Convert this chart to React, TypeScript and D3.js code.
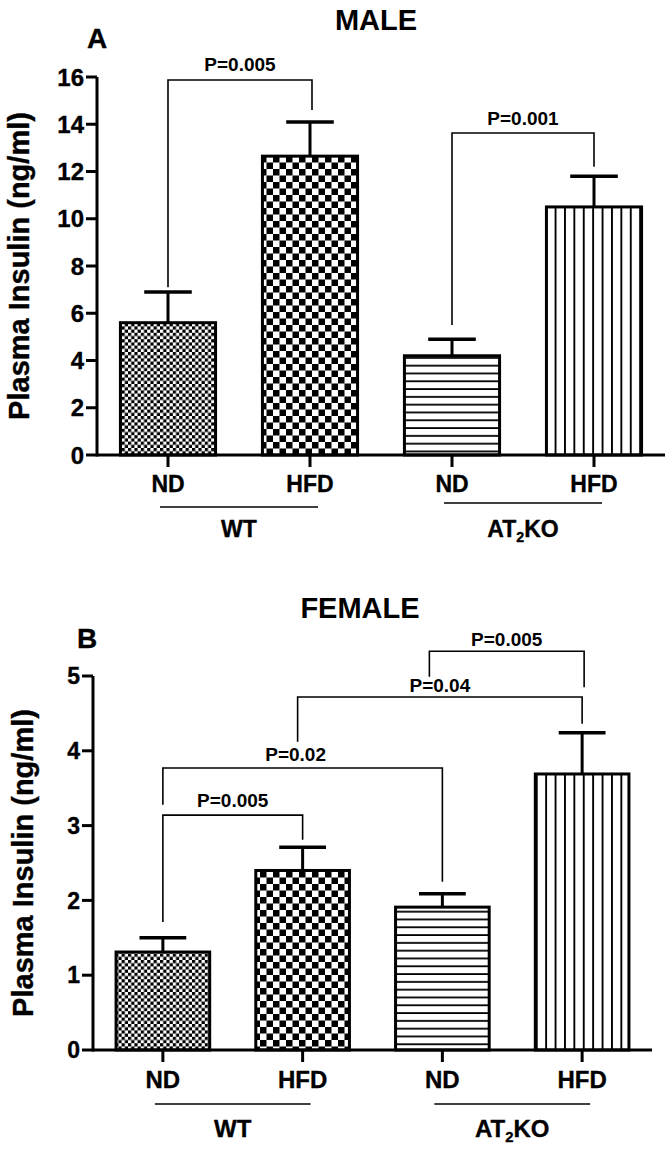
import React from "react";
import * as d3 from "d3";

// ---------- data ----------
const categories = ["ND", "HFD", "ND", "HFD"];
const groupNames = ["WT", "AT2KO"];
const groupMembers = [[0, 1], [2, 3]];

const maleMeans = [5.6, 12.65, 4.2, 10.5];
const maleSem = [1.3, 1.45, 0.7, 1.3];
const maleTicks = [0, 2, 4, 6, 8, 10, 12, 14, 16];

const femaleMeans = [1.31, 2.4, 1.91, 3.69];
const femaleSem = [0.19, 0.31, 0.18, 0.55];
const femaleTicks = [0, 1, 2, 3, 4, 5];

const maleBrackets = [
  { label: "P=0.005", from: 0, to: 1, level: 15.87, leftEnd: 7.1, rightEnd: 14.6 },
  { label: "P=0.001", from: 2, to: 3, level: 13.63, leftEnd: 5.5, rightEnd: 12.2 },
];
const femaleBrackets = [
  { label: "P=0.005", from: 0, to: 1, level: 3.14, leftEnd: 1.71, rightEnd: 2.81 },
  { label: "P=0.02", from: 0, to: 2, level: 3.77, leftEnd: 3.28, rightEnd: 2.25 },
  { label: "P=0.04", from: 1, to: 3, level: 4.72, leftEnd: 4.12, rightEnd: 4.36 },
  { label: "P=0.005", from: 2, to: 3, level: 5.33, leftEnd: 4.99, rightEnd: 4.85 },
];

// ---------- styling / layout ----------
const patternIds = ["chkFine", "chkCoarse", "hLines", "vLines"];
const FONT = "'Liberation Sans', Arial, Helvetica, sans-serif";
const maleBracketStyle = [
  { dxL: 0, dxR: 2, labelDx: 0, gap: 9 },
  { dxL: 0, dxR: 0, labelDx: 0, gap: 8 },
];
const femaleBracketStyle = [
  { dxL: 0, dxR: 0, labelDx: 0, gap: 8 },
  { dxL: 0, dxR: 0, labelDx: -7, gap: 7 },
  { dxL: -5, dxR: 0, labelDx: 0, gap: 5 },
  { dxL: -13, dxR: 2, labelDx: 0, gap: 5 },
];

type PanelProps = {
  title: string;
  titleX: number;
  titleY: number;
  letter: string;
  letterX: number;
  letterY: number;
  means: number[];
  sem: number[];
  ticks: number[];
  x0: number;
  x1: number;
  yTop: number;
  yZero: number;
  brackets: any[];
  bracketStyle: any[];
  tickFont: number;
  catFont: number;
  catY: number;
  groupLineY: number[];
  groupLabelY: number;
  yLabelX: number;
};

function Panel(p: PanelProps) {
  const yMax = p.ticks[p.ticks.length - 1];
  const x = d3
    .scaleBand<number>()
    .domain(d3.range(categories.length))
    .range([p.x0, p.x1])
    .paddingInner(0.33)
    .paddingOuter(0.165);
  const y = d3.scaleLinear().domain([0, yMax]).range([p.yZero, p.yTop]);
  const bw = x.bandwidth();
  const cx = (i: number) => (x(i) as number) + bw / 2;
  const heavy = { stroke: "#000", strokeWidth: 0.35 } as any;

  return (
    <g fontFamily={FONT} fontWeight="bold">
      <text x={p.titleX} y={p.titleY} fontSize={29} textAnchor="middle">
        {p.title}
      </text>
      <text x={p.letterX} y={p.letterY} fontSize={28} {...heavy}>
        {p.letter}
      </text>
      <text
        transform={`translate(${p.yLabelX},${(p.yTop + p.yZero) / 2}) rotate(-90)`}
        fontSize={29}
        textAnchor="middle"
        {...heavy}
      >
        Plasma Insulin (ng/ml)
      </text>

      {/* y axis */}
      <line x1={p.x0} x2={p.x0} y1={y(yMax)} y2={p.yZero + 1.5} stroke="#000" strokeWidth={3} />
      {p.ticks.map((t) => (
        <g key={t}>
          <line x1={p.x0 - 11} x2={p.x0} y1={y(t)} y2={y(t)} stroke="#000" strokeWidth={3} />
          <text
            x={p.x0 - 13}
            y={y(t)}
            dy="0.36em"
            fontSize={p.tickFont}
            textAnchor="end"
            {...heavy}
          >
            {t}
          </text>
        </g>
      ))}

      {/* bars */}
      {p.means.map((m, i) => (
        <g key={i}>
          <line
            x1={cx(i)}
            x2={cx(i)}
            y1={y(m)}
            y2={y(m + p.sem[i])}
            stroke="#000"
            strokeWidth={3}
          />
          <line
            x1={cx(i) - bw / 4}
            x2={cx(i) + bw / 4}
            y1={y(m + p.sem[i])}
            y2={y(m + p.sem[i])}
            stroke="#000"
            strokeWidth={3.5}
          />
          <rect
            x={x(i)}
            y={y(m)}
            width={bw}
            height={p.yZero - y(m)}
            fill={`url(#${patternIds[i]})`}
            stroke="#000"
            strokeWidth={3}
          />
        </g>
      ))}

      {/* x axis */}
      <line x1={p.x0} x2={p.x1} y1={p.yZero} y2={p.yZero} stroke="#000" strokeWidth={3} />
      {categories.map((c, i) => (
        <g key={i}>
          <line x1={cx(i)} x2={cx(i)} y1={p.yZero} y2={p.yZero + 12} stroke="#000" strokeWidth={3} />
          <text x={cx(i)} y={p.catY} fontSize={p.catFont} textAnchor="middle" {...heavy}>
            {c}
          </text>
        </g>
      ))}

      {/* groups */}
      {groupNames.map((g, gi) => {
        const a = cx(groupMembers[gi][0]);
        const b = cx(groupMembers[gi][1]);
        const mid = (a + b) / 2;
        return (
          <g key={g}>
            <line
              x1={a - 8}
              x2={b + 8}
              y1={p.groupLineY[gi]}
              y2={p.groupLineY[gi]}
              stroke="#000"
              strokeWidth={1.6}
            />
            {g === "AT2KO" ? (
              <text x={mid} y={p.groupLabelY} fontSize={p.catFont} textAnchor="middle" {...heavy}>
                <tspan>AT</tspan>
                <tspan fontSize={p.catFont * 0.62} dy={5}>
                  2
                </tspan>
                <tspan dy={-5}>KO</tspan>
              </text>
            ) : (
              <text x={mid} y={p.groupLabelY} fontSize={p.catFont} textAnchor="middle" {...heavy}>
                {g}
              </text>
            )}
          </g>
        );
      })}

      {/* significance brackets */}
      {p.brackets.map((b, i) => {
        const st = p.bracketStyle[i];
        const xl = cx(b.from) + st.dxL;
        const xr = cx(b.to) + st.dxR;
        const ly = y(b.level);
        return (
          <g key={i}>
            <path
              d={`M${xl},${y(b.leftEnd)}V${ly}H${xr}V${y(b.rightEnd)}`}
              fill="none"
              stroke="#000"
              strokeWidth={1.6}
            />
            <text
              x={(xl + xr) / 2 + st.labelDx}
              y={ly - st.gap}
              fontSize={19}
              textAnchor="middle"
            >
              {b.label}
            </text>
          </g>
        );
      })}
    </g>
  );
}

export default function App() {
  return (
    <svg
      width={672}
      height={1150}
      viewBox="0 0 672 1150"
      style={{ position: "absolute", left: 0, top: 0, background: "#fff" }}
    >
      <defs>
        <pattern id="chkFine" patternUnits="userSpaceOnUse" width={6.4} height={6.4}>
          <rect width={6.4} height={6.4} fill="#fff" />
          <rect x={0} y={0} width={3.2} height={3.2} fill="#000" />
          <rect x={3.2} y={3.2} width={3.2} height={3.2} fill="#000" />
        </pattern>
        <pattern id="chkCoarse" patternUnits="userSpaceOnUse" width={13} height={13}>
          <rect width={13} height={13} fill="#fff" />
          <rect x={0} y={0} width={6.5} height={6.5} fill="#000" />
          <rect x={6.5} y={6.5} width={6.5} height={6.5} fill="#000" />
        </pattern>
        <pattern id="hLines" patternUnits="userSpaceOnUse" width={10} height={7.8}>
          <rect width={10} height={7.8} fill="#fff" />
          <rect x={0} y={6} width={10} height={1.8} fill="#000" />
        </pattern>
        <pattern id="vLines" patternUnits="userSpaceOnUse" width={9.4} height={10}>
          <rect width={9.4} height={10} fill="#fff" />
          <rect x={0} y={0} width={1.9} height={10} fill="#000" />
        </pattern>
      </defs>
      <rect width={672} height={1150} fill="#fff" />
      <Panel
        title="MALE"
        titleX={376}
        titleY={30}
        letter="A"
        letterX={87}
        letterY={48}
        means={maleMeans}
        sem={maleSem}
        ticks={maleTicks}
        x0={97}
        x1={665}
        yTop={77}
        yZero={455}
        brackets={maleBrackets}
        bracketStyle={maleBracketStyle}
        tickFont={24}
        catFont={23}
        catY={492}
        groupLineY={[507, 503]}
        groupLabelY={537}
        yLabelX={29}
      />
      <Panel
        title="FEMALE"
        titleX={360}
        titleY={618}
        letter="B"
        letterX={77}
        letterY={648}
        means={femaleMeans}
        sem={femaleSem}
        ticks={femaleTicks}
        x0={93}
        x1={652}
        yTop={676}
        yZero={1050}
        brackets={femaleBrackets}
        bracketStyle={femaleBracketStyle}
        tickFont={23}
        catFont={24}
        catY={1088}
        groupLineY={[1104, 1104]}
        groupLabelY={1137}
        yLabelX={33}
      />
    </svg>
  );
}
